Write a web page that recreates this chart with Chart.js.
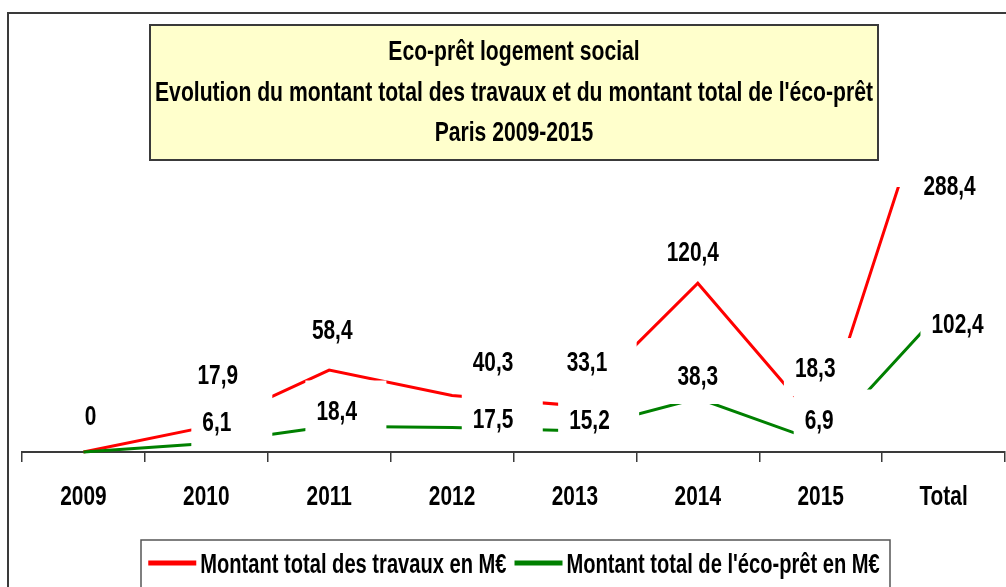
<!DOCTYPE html>
<html lang="fr">
<head>
<meta charset="utf-8">
<title>Eco-prêt logement social – Paris 2009-2015</title>
<script src="https://cdn.jsdelivr.net/npm/chart.js@4.4.1/dist/chart.umd.min.js"></script>
<style>
  html, body { margin: 0; padding: 0; background: #ffffff; }
  canvas { display: block; }
</style>
</head>
<body>
<canvas id="chart" width="1006" height="587"></canvas>
<script>
// ---- Data ----
const categories = ['2009', '2010', '2011', '2012', '2013', '2014', '2015', 'Total'];
const travaux = [0, 17.9, 58.4, 40.3, 33.1, 120.4, 18.3, 288.4];
const ecoPret = [0, 6.1, 18.4, 17.5, 15.2, 38.3, 6.9, 102.4];
const seriesNames = ['Montant total des travaux en M€', "Montant total de l'éco-prêt en M€"];
const titleLines = [
  'Eco-prêt logement social',
  "Evolution du montant total des travaux et du montant total de l'éco-prêt",
  'Paris 2009-2015'
];

// ---- Label placement (offset of each label centre from its point, px) ----
const travauxLabelShift = [[7, -37], [11.5, -53], [3, -41], [41, -34], [12, -44.6], [-5, -32], [-5.5, -59.3], [6, -2]];
const ecoPretLabelShift = [null, [10.5, -22], [7.5, -16.7], [41, -9], [14.5, -11.7], [0, -23.3], [-1.5, -23.8], [14, 15]];
// labels drawn without a white backing box
const travauxLabelPlain = [true, false, false, false, false, false, false, false];
const ecoPretLabelPlain = [false, false, false, false, false, false, false, false];

// ---- Text helpers (bold condensed sans) ----
const FONT_FAMILY = '"Liberation Sans", Arial, sans-serif';
const H_SCALE = 0.745;
const TITLE_H_SCALE = 0.755;
const FONT_SIZE = 28;

function textWidth(ctx, text, size, hs) {
  ctx.save();
  ctx.font = 'bold ' + size + 'px ' + FONT_FAMILY;
  const w = ctx.measureText(text).width * (hs || H_SCALE);
  ctx.restore();
  return w;
}

function drawText(ctx, text, x, baseline, size, align, hs) {
  const scaleX = hs || H_SCALE;
  const w = textWidth(ctx, text, size, scaleX);
  const left = align === 'center' ? x - w / 2 : (align === 'right' ? x - w : x);
  ctx.save();
  ctx.font = 'bold ' + size + 'px ' + FONT_FAMILY;
  ctx.textAlign = 'left';
  ctx.textBaseline = 'alphabetic';
  ctx.fillStyle = '#000000';
  ctx.translate(left, baseline);
  ctx.scale(scaleX, 1);
  ctx.fillText(text, 0, 0);
  ctx.restore();
  return w;
}

function fmt(v) {
  return String(v).replace('.', ',');
}

// ---- Background, frame and title box ----
const frameAndTitle = {
  id: 'frameAndTitle',
  beforeDraw(chart) {
    const ctx = chart.ctx;
    ctx.save();
    ctx.fillStyle = '#ffffff';
    ctx.fillRect(0, 0, chart.width, chart.height);
    // outer chart frame
    ctx.strokeStyle = '#3a3a3a';
    ctx.lineWidth = 2;
    ctx.strokeRect(8, 13, chart.width + 40, chart.height + 40);
    // title box
    ctx.fillStyle = '#FFFFCC';
    ctx.fillRect(150, 25, 728, 135);
    ctx.strokeStyle = '#3a3a3a';
    ctx.lineWidth = 2;
    ctx.strokeRect(150, 25, 728, 135);
    ctx.restore();
    const cx = 514;
    const baselines = [60, 101, 141];
    titleLines.forEach((line, i) => drawText(ctx, line, cx, baselines[i], FONT_SIZE, 'center', TITLE_H_SCALE));
  }
};

// ---- Value labels with white backing boxes, category labels and legend ----
const valueLabels = {
  id: 'valueLabels',
  afterDatasetsDraw(chart) {
    const ctx = chart.ctx;
    const area = chart.chartArea;
    const shifts = [travauxLabelShift, ecoPretLabelShift];
    const plain = [travauxLabelPlain, ecoPretLabelPlain];
    chart.data.datasets.forEach((ds, di) => {
      const meta = chart.getDatasetMeta(di);
      meta.data.forEach((pt, i) => {
        const shift = shifts[di][i];
        if (!shift) return;
        const ax = pt.x;
        const ay = Math.max(pt.y, area.top);
        const cx = ax + shift[0];
        const cy = ay + shift[1];
        const text = fmt(ds.data[i]);
        const w = textWidth(ctx, text, FONT_SIZE);
        const left = cx - w / 2;
        if (!plain[di][i]) {
          ctx.save();
          ctx.fillStyle = '#ffffff';
          ctx.fillRect(left - 11, cy - 29, 81, 58);
          ctx.restore();
        }
        drawText(ctx, text, left, cy + 10, FONT_SIZE, 'left');
      });
    });
  },
  afterDraw(chart) {
    const ctx = chart.ctx;
    const xScale = chart.scales.x;
    // category labels under the axis
    categories.forEach((c, i) => {
      drawText(ctx, c, xScale.getPixelForValue(i), 505, FONT_SIZE, 'center');
    });
    // legend
    const sample = 48;
    const widths = seriesNames.map(n => textWidth(ctx, n, 27));
    const total = sample + 4 + widths[0] + 8 + sample + 4 + widths[1];
    let x = 514 - total / 2;
    const y = 563;
    ctx.save();
    ctx.fillStyle = '#ffffff';
    ctx.fillRect(141, 540, 749, 60);
    ctx.strokeStyle = '#555555';
    ctx.lineWidth = 1.5;
    ctx.strokeRect(141, 540, 749, 60);
    ctx.restore();
    chart.data.datasets.forEach((ds, di) => {
      ctx.save();
      ctx.strokeStyle = ds.borderColor;
      ctx.lineWidth = 5;
      ctx.beginPath();
      ctx.moveTo(x, y);
      ctx.lineTo(x + sample, y);
      ctx.stroke();
      ctx.restore();
      x += sample + 4;
      drawText(ctx, ds.label, x, y + 10, 27, 'left');
      x += widths[di] + 8;
    });
  }
};

new Chart(document.getElementById('chart'), {
  type: 'line',
  data: {
    labels: categories,
    datasets: [
      {
        label: seriesNames[0],
        data: travaux,
        borderColor: '#FF0000',
        backgroundColor: '#FF0000',
        borderWidth: 3,
        order: 1,
        clip: { left: 5, right: 5, top: 0, bottom: 5 }
      },
      {
        label: seriesNames[1],
        data: ecoPret,
        borderColor: '#008000',
        backgroundColor: '#008000',
        borderWidth: 3,
        order: 0,
        clip: { left: 5, right: 5, top: 0, bottom: 5 }
      }
    ]
  },
  options: {
    responsive: false,
    animation: false,
    devicePixelRatio: 1,
    layout: { padding: { top: 187, left: 22, right: 1, bottom: 0 } },
    elements: {
      point: { radius: 0, hoverRadius: 0 },
      line: { tension: 0 }
    },
    plugins: {
      legend: { display: false },
      title: { display: false },
      tooltip: { enabled: false }
    },
    events: [],
    scales: {
      x: {
        offset: true,
        grid: {
          offset: true,
          drawOnChartArea: false,
          drawTicks: true,
          tickLength: 10,
          color: '#3a3a3a',
          lineWidth: 1.5
        },
        border: { display: true, color: '#3a3a3a', width: 2 },
        ticks: { display: false },
        afterFit(scale) { scale.height = 135; }
      },
      y: { display: false, min: 0, max: 189 }
    }
  },
  plugins: [frameAndTitle, valueLabels]
});
</script>
</body>
</html>
